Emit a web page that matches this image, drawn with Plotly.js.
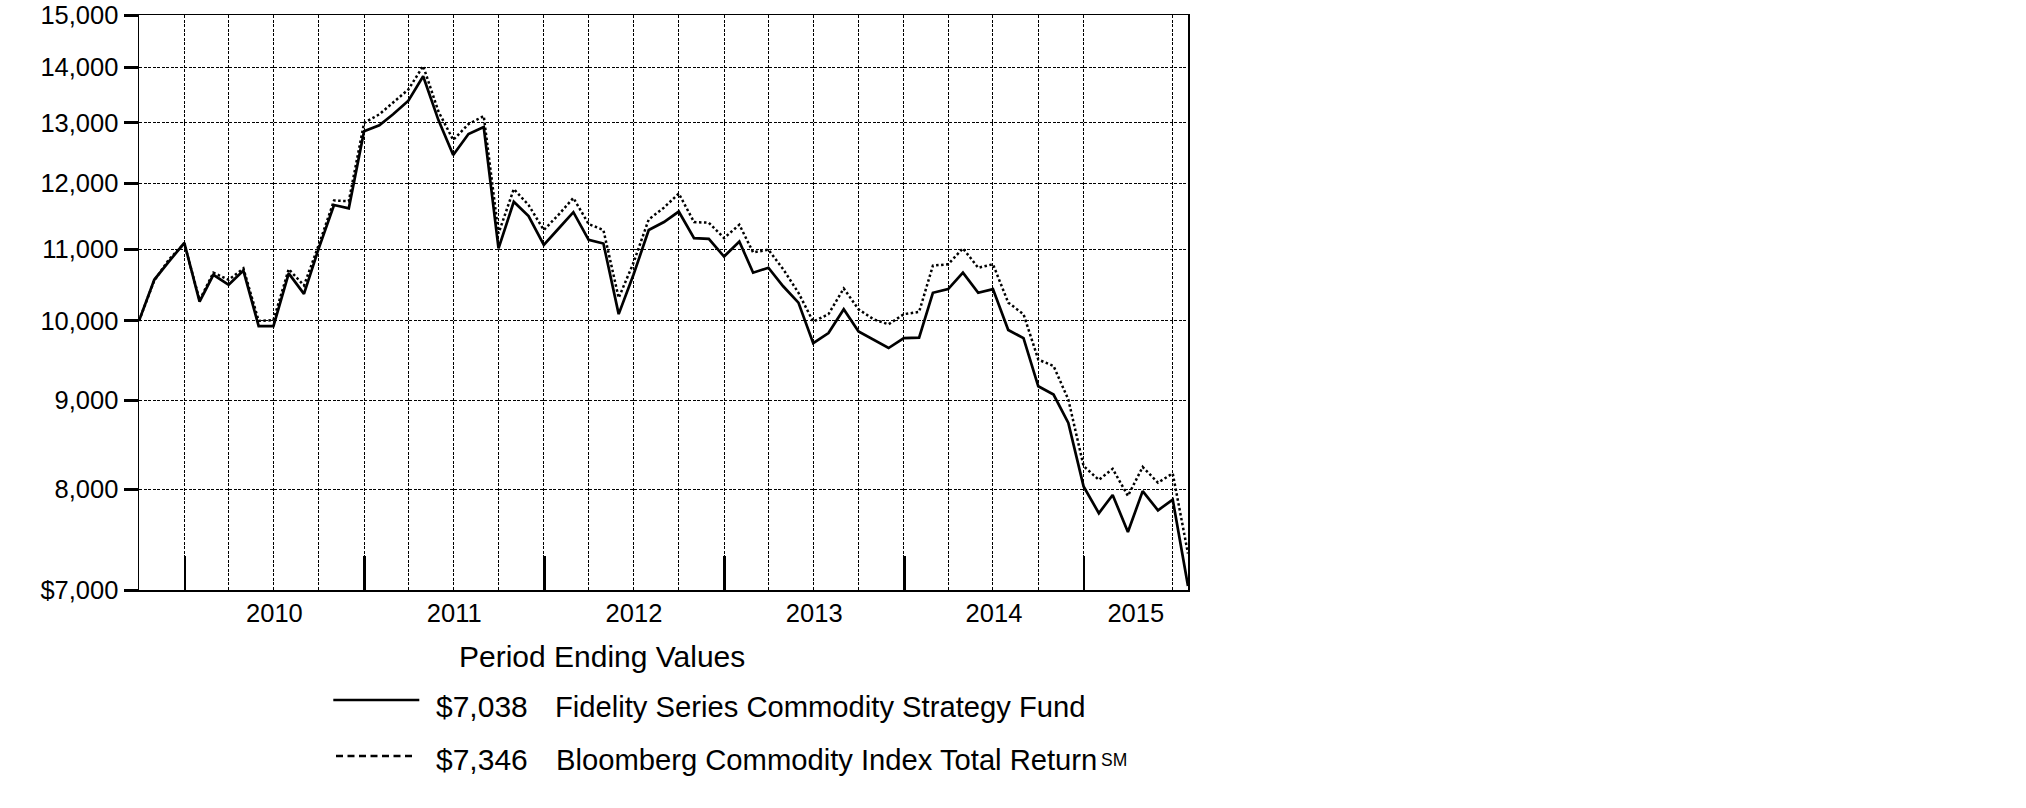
<!DOCTYPE html>
<html>
<head>
<meta charset="utf-8">
<script src="https://cdn.plot.ly/plotly-3.0.1.min.js"></script>
<style>
  html, body { margin: 0; padding: 0; background: #fff; }
  #chart { width: 2026px; height: 808px; }
</style>
</head>
<body>
<div id="chart"></div>
<script>
// ---- Data (month-end values of a hypothetical $10,000 investment) ----
const dates = [
  "2009-09-30","2009-10-31","2009-11-30","2009-12-31",
  "2010-01-31","2010-02-28","2010-03-31","2010-04-30","2010-05-31","2010-06-30",
  "2010-07-31","2010-08-31","2010-09-30","2010-10-31","2010-11-30","2010-12-31",
  "2011-01-31","2011-02-28","2011-03-31","2011-04-30","2011-05-31","2011-06-30",
  "2011-07-31","2011-08-31","2011-09-30","2011-10-31","2011-11-30","2011-12-31",
  "2012-01-31","2012-02-29","2012-03-31","2012-04-30","2012-05-31","2012-06-30",
  "2012-07-31","2012-08-31","2012-09-30","2012-10-31","2012-11-30","2012-12-31",
  "2013-01-31","2013-02-28","2013-03-31","2013-04-30","2013-05-31","2013-06-30",
  "2013-07-31","2013-08-31","2013-09-30","2013-10-31","2013-11-30","2013-12-31",
  "2014-01-31","2014-02-28","2014-03-31","2014-04-30","2014-05-31","2014-06-30",
  "2014-07-31","2014-08-31","2014-09-30","2014-10-31","2014-11-30","2014-12-31",
  "2015-01-31","2015-02-28","2015-03-31","2015-04-30","2015-05-31","2015-06-30",
  "2015-07-31"
];

const fundValues = [
  10000, 10560, 10820, 11090,
  10260, 10630, 10490, 10690, 9930, 9930,
  10650, 10365, 11010, 11660, 11610, 12860,
  12960, 13150, 13390, 13830, 13050, 12460,
  12810, 12930, 11010, 11710, 11490, 11060,
  11310, 11550, 11135, 11080, 10090, 10630,
  11280, 11400, 11560, 11160, 11150, 10890,
  11110, 10660, 10730, 10470, 10245, 9710,
  9840, 10155, 9860, 9753, 9647, 9774,
  9780, 10380, 10430, 10660, 10380, 10430,
  9880, 9774, 9170, 9070, 8736, 8030,
  7750, 7940, 7560, 7980, 7780, 7890,
  7038
];

const indexValues = [
  10000, 10550, 10850, 11080,
  10280, 10660, 10560, 10720, 10000, 10010,
  10710, 10480, 11060, 11730, 11720, 13000,
  13150, 13360, 13590, 14020, 13200, 12710,
  12980, 13120, 11230, 11910, 11660, 11280,
  11520, 11770, 11370, 11280, 10310, 10800,
  11440, 11620, 11840, 11400, 11390, 11160,
  11360, 10950, 10990, 10710, 10380, 9990,
  10090, 10440, 10155, 10020, 9955, 10090,
  10120, 10760, 10780, 11010, 10730, 10780,
  10245, 10090, 9500, 9420, 9010, 8250,
  8100, 8220, 7930, 8240, 8070, 8170,
  7346
];

const yTickVals  = [7000, 8000, 9000, 10000, 11000, 12000, 13000, 14000, 15000];
const yTickText  = ["$7,000", "8,000", "9,000", "10,000", "11,000", "12,000", "13,000", "14,000", "15,000"];

const yearLabels   = ["2010", "2011", "2012", "2013", "2014", "2015"];
const yearLabelPos = ["2010-07-02", "2011-07-02", "2012-07-01", "2013-07-02", "2014-07-02", "2015-04-16"];
const yearStarts   = ["2010-01-01", "2011-01-01", "2012-01-01", "2013-01-01", "2014-01-01", "2015-01-01"];
const gridDates = [
  "2009-12-31",
  "2010-03-31","2010-06-30","2010-09-30","2010-12-31",
  "2011-03-31","2011-06-30","2011-09-30","2011-12-31",
  "2012-03-31","2012-06-30","2012-09-30","2012-12-31",
  "2013-03-31","2013-06-30","2013-09-30","2013-12-31",
  "2014-03-31","2014-06-30","2014-09-30","2014-12-31",
  "2015-06-30"
];

const legendTitle = "Period Ending Values";
const seriesNames = ["Fidelity Series Commodity Strategy Fund", "Bloomberg Commodity Index Total Return"];
const serviceMark = "SM";
const endingValues = ["$7,038", "$7,346"];

// ---- Layout geometry ----
const W = 2026, H = 808;
const L = 139, T = 15, PW = 1049, PH = 575;
const px = v => (v - L) / PW;
const py = v => (T + PH - v) / PH;

const FONT = "Liberation Sans, Arial, Helvetica, sans-serif";
const xRange = [dates[0], dates[dates.length - 1]];
const gridDash = "3px,1.5px";

const traces = [
  {
    // index drawn on the main subplot (underneath)
    x: dates, y: indexValues, type: "scatter", mode: "lines",
    xaxis: "x", yaxis: "y",
    line: { color: "#000", width: 2.5, dash: "2.5px,2.5px" },
    hoverinfo: "skip", showlegend: false
  },
  {
    // fund drawn on the overlay subplot (on top); that axis carries the year ticks
    x: dates, y: fundValues, type: "scatter", mode: "lines",
    xaxis: "x2", yaxis: "y",
    line: { color: "#000", width: 2.7 },
    hoverinfo: "skip", showlegend: false
  }
];

function ann(text, xpx, ypx, size) {
  return {
    text: text, xref: "paper", yref: "paper", x: px(xpx), y: py(ypx),
    xanchor: "left", yanchor: "middle", showarrow: false,
    borderpad: 0, borderwidth: 0,
    font: { family: FONT, size: size, color: "#000" }
  };
}

const layout = {
  width: W, height: H,
  margin: { l: L, r: W - L - PW, t: T, b: H - T - PH, pad: 0 },
  paper_bgcolor: "#fff", plot_bgcolor: "#fff",
  font: { family: FONT, color: "#000" },
  showlegend: false,
  xaxis: {
    type: "date", range: xRange,
    tickmode: "array", tickvals: yearLabelPos, ticktext: yearLabels,
    ticks: "", showgrid: false, zeroline: false,
    minor: {
      tickmode: "array", tickvals: gridDates, ticks: "",
      showgrid: true, gridcolor: "#000", gridwidth: 1, griddash: gridDash
    },
    showline: true, mirror: true, linecolor: "#000", linewidth: 1.5,
    tickfont: { family: FONT, size: 25.5, color: "#000" },
    fixedrange: true
  },
  xaxis2: {
    type: "date", range: xRange, overlaying: "x", anchor: "y", side: "bottom",
    tickmode: "array", tickvals: yearStarts, showticklabels: false,
    ticks: "inside", ticklen: 34, tickwidth: 2.5, tickcolor: "#000",
    showgrid: false, showline: false, zeroline: false, fixedrange: true
  },
  yaxis: {
    type: "log", range: [Math.log10(7000), Math.log10(15000)],
    tickmode: "array", tickvals: yTickVals, ticktext: yTickText,
    ticks: "outside", ticklen: 14, tickwidth: 3, tickcolor: "#000",
    showgrid: true, gridcolor: "#000", gridwidth: 1, griddash: gridDash,
    showline: true, mirror: true, linecolor: "#000", linewidth: 1.5,
    zeroline: false,
    tickfont: { family: FONT, size: 25.5, color: "#000" },
    fixedrange: true
  },
  shapes: [
    { type: "line", xref: "paper", yref: "paper", x0: px(333.3), x1: px(419.3), y0: py(700), y1: py(700),
      line: { color: "#000", width: 2.7 } },
    { type: "line", xref: "paper", yref: "paper", x0: px(336), x1: px(412), y0: py(756), y1: py(756),
      line: { color: "#000", width: 2.5, dash: "7px,4.5px" } }
  ],
  annotations: [
    ann(legendTitle, 459.3, 656.9, 30),
    ann(endingValues[0], 435.5, 706.9, 30),
    ann(seriesNames[0], 555.3, 706.9, 29.2),
    ann(endingValues[1], 435.5, 759.8, 30),
    ann(seriesNames[1], 556, 759.8, 29.2),
    ann(serviceMark, 1100.5, 759.9, 17.5)
  ]
};

Plotly.newPlot("chart", traces, layout, { staticPlot: true, displayModeBar: false });
</script>
</body>
</html>
